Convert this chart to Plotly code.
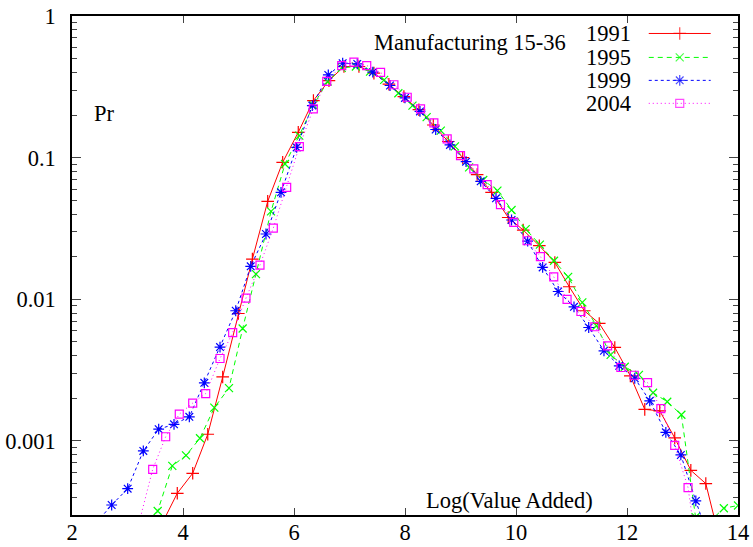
import plotly.graph_objects as go

# ---------------- data ----------------
years = ["1991", "1995", "1999", "2004"]

x_1991 = [3.62, 3.897, 4.175, 4.446, 4.715, 4.997, 5.25, 5.526, 5.796, 6.077,
          6.35, 6.63, 6.90, 7.17, 7.44, 7.71, 7.98, 8.25, 8.51, 8.78,
          9.04, 9.30, 9.56, 9.86, 10.13, 10.42, 10.70, 10.96, 11.23, 11.50,
          11.78, 12.06, 12.32, 12.59, 12.86, 13.15, 13.42, 13.70]
y_1991 = [2.6e-4, 4.27e-4, 5.91e-4, 1.115e-3, 2.83e-3, 7.94e-3, 0.0192, 0.0491, 0.0927, 0.151,
          0.253, 0.35, 0.44, 0.44, 0.395, 0.33, 0.27, 0.218, 0.17, 0.13,
          0.1, 0.076, 0.0568, 0.0378, 0.0308, 0.0239, 0.0182, 0.01226, 0.0083, 0.00675,
          0.00457, 0.00288, 0.00167, 0.00163, 0.00105, 6.2e-4, 5.0e-4, 1.8e-4]

x_1995 = [3.289, 3.544, 3.807, 4.054, 4.306, 4.564, 4.829, 5.075, 5.315, 5.586,
          5.838, 6.095, 6.35, 6.605, 6.86, 7.115, 7.37, 7.625, 7.88, 8.135,
          8.39, 8.645, 8.9, 9.155, 9.41, 9.665, 9.92, 10.175, 10.43, 10.685,
          10.94, 11.195, 11.45, 11.705, 11.96, 12.215, 12.47, 12.725, 12.98, 13.235,
          13.49, 13.745, 14.0]
y_1995 = [2.1e-4, 3.2e-4, 6.66e-4, 7.9e-4, 1.045e-3, 1.72e-3, 2.36e-3, 6.22e-3, 0.01507, 0.0417,
          0.0902, 0.143, 0.235, 0.345, 0.43, 0.44, 0.405, 0.354, 0.285, 0.233,
          0.193, 0.155, 0.12, 0.0854, 0.0695, 0.0585, 0.0427, 0.0313, 0.0243, 0.0187,
          0.0144, 0.0095, 0.0065, 0.00405, 0.00334, 0.00293, 0.00219, 0.00189, 0.00153, 2.9e-4,
          2.7e-4, 3.35e-4, 3.5e-4]

x_1999 = [2.44, 2.715, 3.003, 3.285, 3.562, 3.838, 4.114, 4.384, 4.667, 4.95,
          5.22, 5.495, 5.766, 6.048, 6.33, 6.618, 6.877, 7.14, 7.42, 7.73,
          8.0, 8.27, 8.553, 8.81, 9.1, 9.364, 9.64, 9.92, 10.21, 10.48,
          10.76, 11.045, 11.31, 11.585, 11.86, 12.14, 12.41, 12.7, 12.97, 13.24,
          13.52]
y_1999 = [2.65e-4, 3.53e-4, 4.6e-4, 8.5e-4, 1.21e-3, 1.31e-3, 1.48e-3, 2.57e-3, 4.6e-3, 8.3e-3,
          0.0171, 0.0289, 0.0569, 0.118, 0.233, 0.384, 0.464, 0.459, 0.401, 0.323,
          0.264, 0.212, 0.158, 0.123, 0.0937, 0.068, 0.0516, 0.0363, 0.0257, 0.0168,
          0.01135, 0.00885, 0.00632, 0.00433, 0.00339, 0.00277, 0.00192, 0.00115, 7.96e-4, 3.77e-4,
          1.8e-4]

x_2004 = [3.214, 3.454, 3.688, 3.933, 4.175, 4.409, 4.667, 4.895, 5.135, 5.387,
          5.627, 5.868, 6.096, 6.348, 6.59, 6.86, 7.08, 7.31, 7.56, 7.80,
          8.04, 8.28, 8.52, 8.76, 9.0, 9.24, 9.48, 9.72, 9.96, 10.2,
          10.44, 10.68, 10.92, 11.17, 11.42, 11.65, 11.89, 12.13, 12.37, 12.61,
          12.86, 13.1, 13.34]
y_2004 = [2.7e-4, 6.3e-4, 1.07e-3, 1.545e-3, 1.85e-3, 2.16e-3, 3.82e-3, 5.82e-3, 0.0102, 0.01745,
          0.0318, 0.0617, 0.1197, 0.221, 0.346, 0.447, 0.472, 0.447, 0.40, 0.327,
          0.267, 0.221, 0.176, 0.1356, 0.1033, 0.0832, 0.0645, 0.0466, 0.0349, 0.0259,
          0.02, 0.0144, 0.01, 0.0082, 0.0064, 0.00469, 0.0033, 0.00291, 0.00258, 0.00169,
          9.3e-4, 4.68e-4, 1.0e-4]

x_ticks = [2, 4, 6, 8, 10, 12, 14]
y_ticks = [0.001, 0.01, 0.1, 1]
y_ticktext = ["0.001", "0.01", "0.1", "1"]

# ---------------- style ----------------
FONT = "Liberation Serif, Times New Roman, serif"
FS = 22.5
styles = {
    "1991": dict(color="#ff0000", dash="solid", symbol="cross-thin", size=9),
    "1995": dict(color="#00ff00", dash="5px,4px", symbol="x-thin", size=8),
    "1999": dict(color="#0000ff", dash="3px,3px", symbol="asterisk", size=9),
    "2004": dict(color="#ff00ff", dash="1px,3px", symbol="square-open", size=8),
}
series = {"1991": (x_1991, y_1991), "1995": (x_1995, y_1995),
          "1999": (x_1999, y_1999), "2004": (x_2004, y_2004)}

fig = go.Figure()
for yr in years:
    xs, ys = series[yr]
    st = styles[yr]
    fig.add_trace(go.Scatter(
        x=xs, y=ys, mode="lines+markers", name=yr, showlegend=False,
        line=dict(color=st["color"], width=1, dash=st["dash"]),
        marker=dict(symbol=st["symbol"], size=st["size"], color=st["color"],
                    line=dict(color=st["color"], width=1.2)),
    ))

# custom gnuplot-like key (text left, sample right) on an overlay paper-like axis
key_y = [0.965, 0.917, 0.871, 0.825]
key_text_x = 0.8423
key_line = (0.866, 0.959)
for yr, ky in zip(years, key_y):
    st = styles[yr]
    fig.add_trace(go.Scatter(
        x=[key_line[0], (key_line[0] + key_line[1]) / 2, key_line[1]], y=[ky, ky, ky],
        xaxis="x2", yaxis="y2", mode="lines+markers", showlegend=False, hoverinfo="skip",
        line=dict(color=st["color"], width=1, dash=st["dash"]),
        marker=dict(symbol=st["symbol"], size=[0, st["size"], 0], color=st["color"],
                    line=dict(color=st["color"], width=1.2)),
    ))
    fig.add_annotation(x=key_text_x, y=ky, xref="paper", yref="paper", text=yr,
                       showarrow=False, xanchor="right", yanchor="middle",
                       font=dict(family=FONT, size=FS, color="black"))

minor_vals = [k * 10 ** e for e in range(-4, 0) for k in range(2, 10)]

fig.update_layout(
    width=753, height=547,
    margin=dict(l=72, r=15, t=16, b=32, autoexpand=False),
    paper_bgcolor="white", plot_bgcolor="white",
    font=dict(family=FONT, size=FS, color="black"),
    xaxis=dict(range=[2, 14], tickvals=x_ticks, ticks="inside", ticklen=7, tickwidth=1,
               showline=True, linecolor="black", linewidth=1.5, mirror="ticks",
               automargin=False, ticklabelstandoff=-4,
               showgrid=False, zeroline=False, tickfont=dict(family=FONT, size=FS)),
    yaxis=dict(type="log", range=[-3.5229, 0], tickvals=y_ticks, ticktext=y_ticktext,
               ticks="inside", ticklen=9, tickwidth=1,
               minor=dict(tickvals=minor_vals, ticks="inside", ticklen=5, tickwidth=1,
                          showgrid=False),
               showline=True, linecolor="black", linewidth=1.5, mirror="ticks",
               automargin=False, ticklabelstandoff=10,
               showgrid=False, zeroline=False, tickfont=dict(family=FONT, size=FS)),
    xaxis2=dict(overlaying="x", range=[0, 1], visible=False, anchor="y2"),
    yaxis2=dict(overlaying="y", range=[0, 1], visible=False, anchor="x2"),
)

fig.add_annotation(x=0.4505, y=0.947, xref="paper", yref="paper", text="Manufacturing 15-36",
                   showarrow=False, xanchor="left", yanchor="middle",
                   font=dict(family=FONT, size=FS, color="black"))
fig.add_annotation(x=0.030, y=0.805, xref="paper", yref="paper", text="Pr",
                   showarrow=False, xanchor="left", yanchor="middle",
                   font=dict(family=FONT, size=FS, color="black"))
fig.add_annotation(x=0.785, y=0.03, xref="paper", yref="paper", text="Log(Value Added)",
                   showarrow=False, xanchor="right", yanchor="middle",
                   font=dict(family=FONT, size=FS, color="black"))

fig.write_html("out.html")
